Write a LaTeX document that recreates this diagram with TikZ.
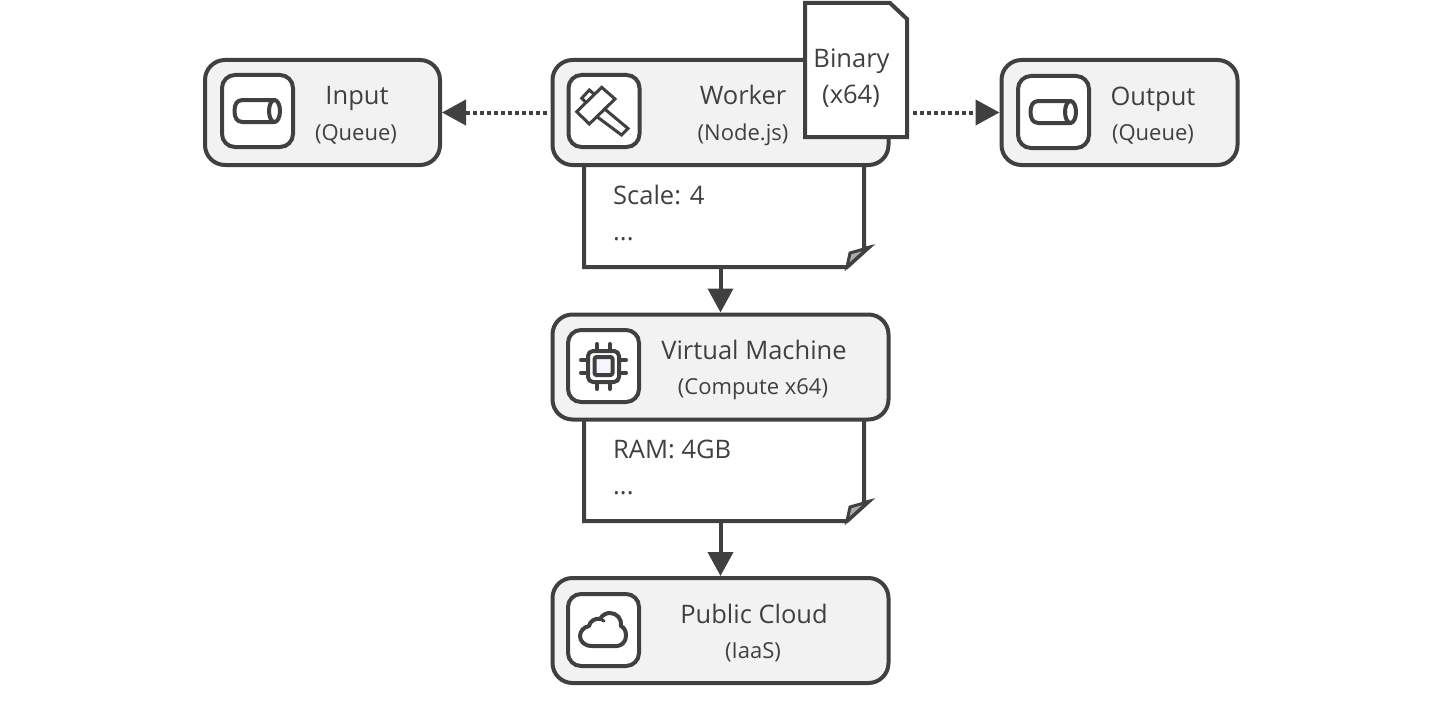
\documentclass[tikz,border=0pt]{standalone}
\usepackage{fontspec}
\setmainfont{Open Sans}
\usetikzlibrary{arrows.meta}
\definecolor{darkline}{HTML}{404040}
\definecolor{boxfill}{HTML}{F2F2F2}
\tikzset{
    boxnode/.style={draw=darkline,line width=4pt,fill=boxfill,rounded corners=20pt,minimum height=105pt,inner sep=0pt},
    iconnode/.style={draw=darkline,line width=4pt,fill=white,rounded corners=13pt,minimum width=71pt,minimum height=72pt,inner sep=0pt},
    sheetnode/.style={inner sep=0pt,outer sep=0pt},
    sheetline/.style={draw=darkline,line width=4pt,fill=white,line join=miter},
    glyphline/.style={draw=darkline,line width=4pt,line join=round,line cap=round},
    hammerline/.style={draw=darkline,line width=3pt,line join=miter},
    titletext/.style={text=darkline,font=\fontsize{25.5}{28}\selectfont,inner sep=0pt,anchor=base},
    subtext/.style={text=darkline,font=\fontsize{22}{24}\selectfont,inner sep=0pt,anchor=base},
    notetext/.style={titletext,anchor=base west},
    flowarrow/.style={draw=darkline,line width=4pt,-{Triangle[length=24pt,width=25pt]}},
    dotarrow/.style={draw=darkline,line width=4pt,dash pattern=on 4pt off 3pt,-{Triangle[length=24pt,width=25pt]}},
}
\begin{document}
\begin{tikzpicture}[x=1pt,y=-1pt]
    \useasboundingbox (0,0) rectangle (1441,709);
    %% sheets below the boxes
    \node[sheetnode,minimum width=280pt,minimum height=102pt] (workersheet) at (724,216) {};
    \node[sheetnode,minimum width=280pt,minimum height=102pt] (vmsheet) at (724,470) {};
    \foreach \nm in {workersheet,vmsheet} {
        \begin{scope}[shift={(\nm.south east)}]
            \draw[sheetline] (-280,-102) -- (-280,0) -- (-17,0) -- (4,-19) -- (0,-18) -- (0,-102);
            \fill[boxfill!60!darkline,draw=darkline,line width=3pt,line join=miter] (-17,0) -- (-14,-14) -- (0,-18) -- (4,-19) -- cycle;
        \end{scope}
    }
    %% main boxes
    \node[boxnode,minimum width=235pt] (input) at (322.5,112.5) {};
    \node[boxnode,minimum width=336pt] (worker) at (720.5,112.5) {};
    \node[boxnode,minimum width=236pt] (output) at (1119.5,112.5) {};
    \node[boxnode,minimum width=336pt] (vm) at (720.5,367) {};
    \node[boxnode,minimum width=336pt] (cloud) at (720.5,630.5) {};
    %% icon frames
    \node[iconnode] (inputicon) at (257.5,111) {};
    \node[iconnode] (workericon) at (604,111) {};
    \node[iconnode] (outputicon) at (1053.5,112) {};
    \node[iconnode] (vmicon) at (603.5,366) {};
    \node[iconnode] (cloudicon) at (603.5,630) {};
    %% queue icons
    \foreach \nm in {inputicon,outputicon} {
        \begin{scope}[shift={(\nm.center)}]
            \draw[glyphline] (17,-11) -- (-15,-11) .. controls (-21,-11) and (-23,-6) .. (-23,0) .. controls (-23,6) and (-21,11) .. (-15,11) -- (17,11);
            \draw[glyphline] (17,0) ellipse (5.5 and 11);
        \end{scope}
    }
    %% hammer icon
    \draw[hammerline] (601.7,87.3) -- (615,99) -- (589.3,124) -- (576.7,111.7) -- cycle;
    \draw[hammerline] (586,102.5) -- (581.7,98.3) -- (589.3,90) -- (594.5,94.5);
    \draw[hammerline] (603.5,108) -- (628,128.5) -- (621.5,135) -- (596,116);
    %% chip icon
    \foreach \px in {596.7,610} {
        \draw[glyphline] (\px,344) -- (\px,351);
        \draw[glyphline] (\px,382) -- (\px,389);
    }
    \foreach \py in {360,372.7} {
        \draw[glyphline] (581,\py) -- (588,\py);
        \draw[glyphline] (619,\py) -- (626,\py);
    }
    \draw[glyphline,rounded corners=5pt] (588,351) rectangle (619,382);
    \draw[glyphline,rounded corners=2pt,fill=blue!4] (594.5,357) rectangle (612.5,375);
    %% cloud icon
    \draw[glyphline] (592,646) .. controls (584,646) and (580,641) .. (580,636)
        .. controls (580,631) and (584,627) .. (589,626)
        .. controls (590,621) and (595,618) .. (600,619)
        .. controls (603,614) and (607,613) .. (610,613)
        .. controls (617,613) and (622,619) .. (621,626)
        .. controls (625,628) and (626,632) .. (626,636)
        .. controls (626,642) and (621,646) .. (617,646) -- cycle;
    \draw[glyphline,line width=3pt] (600,619) -- (604,621);
    %% binary sheet on top of the worker
    \node[sheetnode,minimum width=102pt,minimum height=134pt] (binary) at (856,70) {};
    \draw[sheetline] (binary.north west) -- ++(85,0) -- (binary.north east |- 0,19) -- (binary.south east) -- (binary.south west) -- cycle;
    %% texts
    \node[titletext] (inputtitle) at (357,104) {Input};
    \node[subtext] (inputsub) at (356,140) {(Queue)};
    \node[titletext] (workertitle) at (743,104) {Worker};
    \node[subtext] (workersub) at (743,140) {(Node.js)};
    \node[titletext] (outputtitle) at (1153,105) {Output};
    \node[subtext] (outputsub) at (1153,140) {(Queue)};
    \node[titletext] (binarytitle) at (851.5,67) {Binary};
    \node[titletext] (binarysub) at (851,103) {(x64)};
    \node[notetext] (workerscale) at (613,204) {Scale: 4};
    \node[notetext] (workerdots) at (613,240) {...};
    \node[titletext] (vmtitle) at (754,359) {Virtual Machine};
    \node[subtext] (vmsub) at (753,394) {(Compute x64)};
    \node[notetext] (vmram) at (613,458) {RAM: 4GB};
    \node[notetext] (vmdots) at (613,494) {...};
    \node[titletext] (cloudtitle) at (754,623) {Public Cloud};
    \node[subtext] (cloudsub) at (753,658) {(IaaS)};
    %% connectors
    \draw[dotarrow,shorten <=4pt] (worker.west) -- (input.east);
    \draw[dotarrow,shorten <=6pt] (binary.east |- output.west) -- (output.west);
    \draw[flowarrow] (workersheet.south -| vm.north) -- (vm.north);
    \draw[flowarrow] (vmsheet.south -| cloud.north) -- (cloud.north);
\end{tikzpicture}
\end{document}
